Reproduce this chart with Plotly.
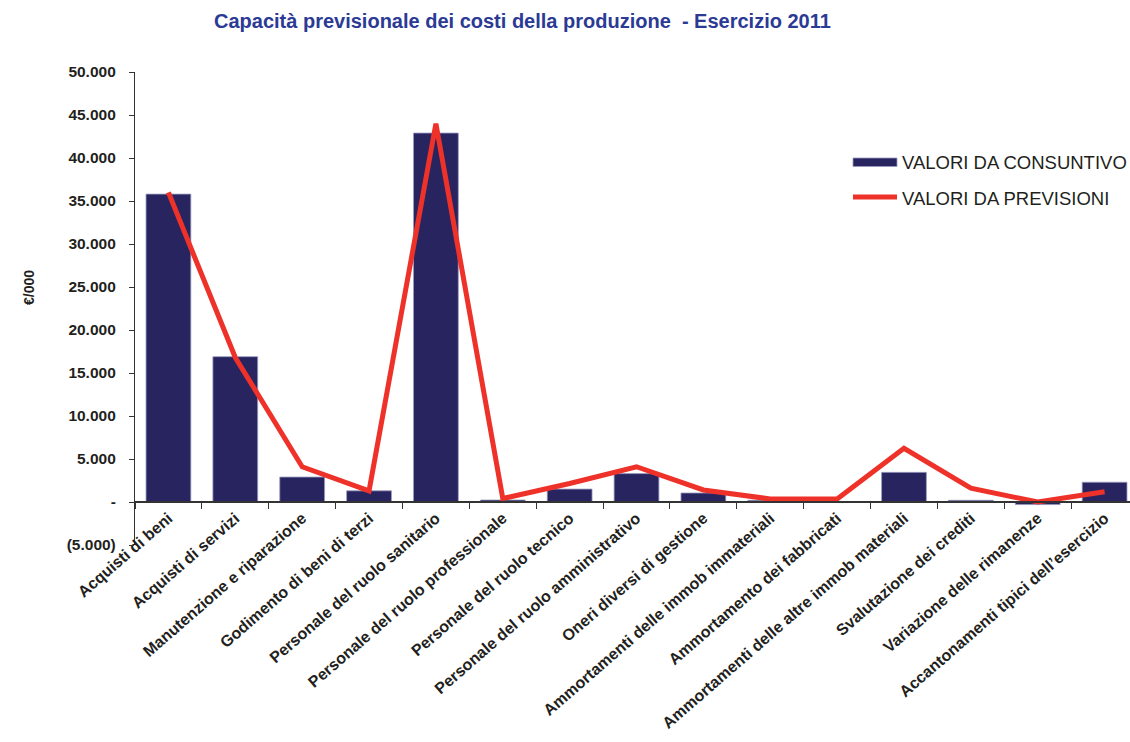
import plotly.graph_objects as go

# Voci di costo della produzione
categorie = [
    "Acquisti di beni",
    "Acquisti di servizi",
    "Manutenzione e riparazione",
    "Godimento di beni di terzi",
    "Personale del ruolo sanitario",
    "Personale del ruolo professionale",
    "Personale del ruolo tecnico",
    "Personale del ruolo amministrativo",
    "Oneri diversi di gestione",
    "Ammortamenti delle immob immateriali",
    "Ammortamento dei fabbricati",
    "Ammortamenti delle altre immob materiali",
    "Svalutazione dei crediti",
    "Variazione delle rimanenze",
    "Accantonamenti tipici dell\u2019esercizio",
]

# Valori in migliaia di euro
valori_consuntivo = [35800, 16900, 2900, 1300, 42900, 230, 1500, 3300, 1050,
                     200, 50, 3450, 200, -300, 2300]
valori_previsioni = [36000, 16800, 4100, 1300, 44000, 400, 2150, 4100, 1400,
                     350, 350, 6250, 1600, 0, 1200]

# Etichette dell'asse verticale
y_tick_vals = [-5000, 0, 5000, 10000, 15000, 20000, 25000, 30000, 35000,
               40000, 45000, 50000]
y_tick_text = ["(5.000)", "-", "5.000", "10.000", "15.000", "20.000",
               "25.000", "30.000", "35.000", "40.000", "45.000", "50.000"]

NAVY = "#28245f"
RED = "#ee3229"
TXT = "#231f20"
FONT = "Liberation Sans, Arial, sans-serif"

W, H = 1130, 742
ML, MR, MT, MB = 135, 0, 72, 197
y_min, y_max = -5000, 50000
PW, PH = W - ML - MR, H - MT - MB


def px_x(v):
    """Pixel orizzontale -> coordinata paper."""
    return (v - ML) / PW


def px_y(v):
    """Pixel verticale (dall'alto) -> coordinata paper."""
    return (H - v - MB) / PH


fig = go.Figure()
fig.add_trace(go.Bar(
    x=categorie, y=valori_consuntivo, name="VALORI DA CONSUNTIVO",
    marker=dict(color=NAVY, line=dict(color="#9b9bc0", width=0.8)),
    width=0.67, showlegend=False,
))
fig.add_trace(go.Scatter(
    x=categorie, y=valori_previsioni, name="VALORI DA PREVISIONI",
    mode="lines", line=dict(color=RED, width=5), showlegend=False,
))

fig.update_layout(
    width=W, height=H,
    margin=dict(l=ML, r=MR, t=MT, b=MB, autoexpand=False),
    paper_bgcolor="white", plot_bgcolor="white",
    font=dict(family=FONT, color=TXT),
    xaxis=dict(
        type="category", range=[-0.5, 14.38],
        anchor="free", position=(0 - y_min) / (y_max - y_min),
        showline=True, linecolor="#333333", linewidth=1.5,
        ticks="outside", ticklen=6, tickcolor="#333333", tickwidth=1,
        tickson="boundaries",
        tickangle=-41,
        tickfont=dict(family=FONT, size=16, color=TXT, weight="bold"),
        showgrid=False, zeroline=False,
    ),
    yaxis=dict(
        range=[y_min, y_max],
        tickvals=y_tick_vals, ticktext=y_tick_text,
        showline=True, linecolor="#333333", linewidth=1.2,
        ticks="outside", ticklen=5, tickcolor="#333333",
        ticklabelstandoff=10,
        tickfont=dict(family=FONT, size=15.5, color=TXT, weight="bold"),
        showgrid=False, zeroline=False,
    ),
    annotations=[
        dict(text="<b>Capacità previsionale dei costi della produzione  - Esercizio 2011</b>",
             x=px_x(522), y=px_y(21), xref="paper", yref="paper", showarrow=False,
             font=dict(family=FONT, size=20, color="#2b3a94"),
             xanchor="center", yanchor="middle"),
        dict(text="<b>€/000</b>", x=px_x(29), y=px_y(288), xref="paper", yref="paper",
             textangle=-90, showarrow=False,
             font=dict(family=FONT, size=14, color=TXT),
             xanchor="center", yanchor="middle"),
        dict(text="VALORI DA CONSUNTIVO", x=px_x(900), y=px_y(162),
             xref="paper", yref="paper", showarrow=False,
             font=dict(family=FONT, size=18.5, color=TXT),
             xanchor="left", yanchor="middle"),
        dict(text="VALORI DA PREVISIONI", x=px_x(900), y=px_y(198),
             xref="paper", yref="paper", showarrow=False,
             font=dict(family=FONT, size=18.5, color=TXT),
             xanchor="left", yanchor="middle"),
    ],
)

# Simboli della legenda
fig.add_shape(type="rect", xref="paper", yref="paper",
              x0=px_x(853), x1=px_x(897), y0=px_y(166.5), y1=px_y(158),
              fillcolor=NAVY, line=dict(color="#9b9bc0", width=0.8))
fig.add_shape(type="line", xref="paper", yref="paper",
              x0=px_x(853), x1=px_x(897), y0=px_y(197), y1=px_y(197),
              line=dict(color=RED, width=5))

fig.write_html("out.html")
